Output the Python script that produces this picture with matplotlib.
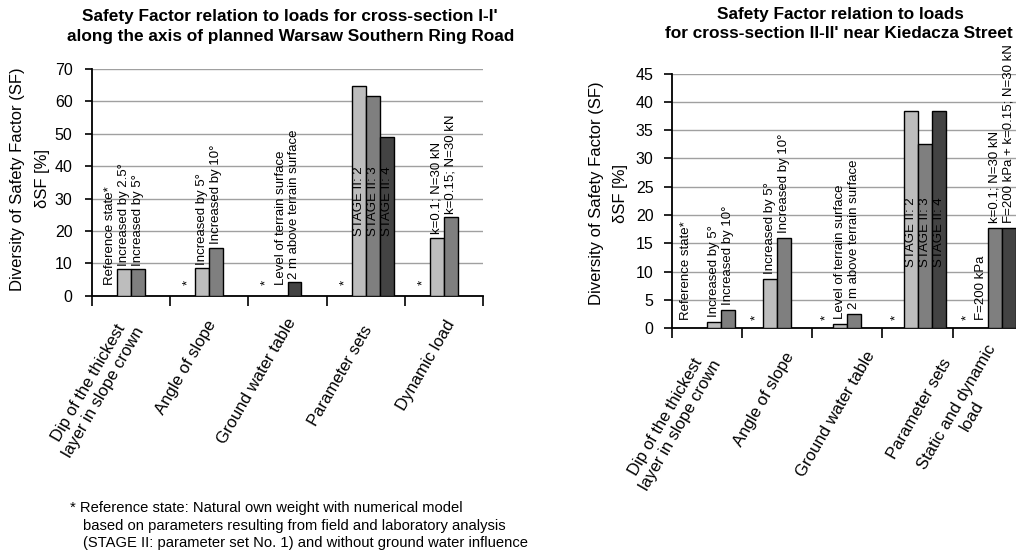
import matplotlib
matplotlib.use("Agg")
import matplotlib.pyplot as plt

plt.rcParams['font.family'] = ['Liberation Sans', 'DejaVu Sans']

# ---------------- data: cross-section I-I' ----------------
cats_1 = ["Dip of the thickest\nlayer in slope crown", "Angle of slope",
          "Ground water table", "Parameter sets", "Dynamic load"]
# four slots per category (None = no bar in that slot)
vals_1 = [
    [0, 8.2, 8.2, None],
    [0, 8.5, 14.8, None],
    [0, 0, 4.1, None],
    [0, 64.7, 61.8, 49.1],
    [0, 17.9, 24.2, None],
]
labels_1 = [
    ["Reference state*", "Increased by 2.5°", "Increased by 5°", None],
    ["*", "Increased by 5°", "Increased by 10°", None],
    ["*", "Level of terrain surface", "2 m above terrain surface", None],
    ["*", "STAGE II: 2", "STAGE II: 3", "STAGE II: 4"],
    ["*", "k=0.1; N=30 kN", "k=0.15; N=30 kN", None],
]
shade_1 = [
    [None, "light", "mid", None],
    [None, "light", "mid", None],
    [None, None, "dark", None],
    [None, "light", "mid", "dark"],
    [None, "light", "mid", None],
]

# ---------------- data: cross-section II-II' ----------------
cats_2 = ["Dip of the thickest\nlayer in slope crown", "Angle of slope",
          "Ground water table", "Parameter sets", "Static and dynamic\nload"]
vals_2 = [
    [0, None, 1.1, 3.2],
    [0, 8.7, 15.9, None],
    [0, 0.8, 2.5, None],
    [0, 38.4, 32.6, 38.4],
    [0, 0, 17.7, 17.7],
]
labels_2 = [
    ["Reference state*", None, "Increased by 5°", "Increased by 10°"],
    ["*", "Increased by 5°", "Increased by 10°", None],
    ["*", "Level of terrain surface", "2 m above terrain surface", None],
    ["*", "STAGE II: 2", "STAGE II: 3", "STAGE II: 4"],
    ["*", "F=200 kPa", "k=0.1; N=30 kN", "F=200 kPa + k=0.15; N=30 kN"],
]
shade_2 = [
    [None, None, "light", "mid"],
    [None, "light", "mid", None],
    [None, "light", "mid", None],
    [None, "light", "mid", "dark"],
    [None, None, "mid", "dark"],
]

SHADES = {"light": "#bdbdbd", "mid": "#7f7f7f", "dark": "#434343"}
W, H = 1016, 556

fig = plt.figure(figsize=(W / 100, H / 100), dpi=100)


def px_axes(x0, x1, ytop, ybot):
    return fig.add_axes([x0 / W, 1 - ybot / H, (x1 - x0) / W, (ybot - ytop) / H])


def draw_panel(ax, cats, vals, labels, shades, ymax, ystep, bar_w, inside_y,
               pad_zero, pad_bar, cat_shift, ytick_pad, ytick_len):
    gap = (1 - 4 * bar_w) / 2
    for i, (cv, cl, cs) in enumerate(zip(vals, labels, shades)):
        for j in range(4):
            x = i + gap + (j + 0.5) * bar_w
            v = cv[j]
            if v is None:
                continue
            if cs[j] is not None and v > 0:
                ax.bar(x, v, width=bar_w, color=SHADES[cs[j]],
                       edgecolor="black", linewidth=1.0, zorder=3)
            lab = cl[j]
            if lab is None:
                continue
            if lab.startswith("STAGE"):
                ax.text(x, inside_y, lab, rotation=90, ha="center",
                        va="bottom", fontsize=9.5, zorder=4)
            else:
                pad = pad_zero if v == 0 else pad_bar
                ax.annotate(lab, xy=(x, v), xytext=(0, pad),
                            textcoords="offset points", rotation=90,
                            ha="center", va="bottom", fontsize=9.5,
                            zorder=4, annotation_clip=False)
    n = len(cats)
    ax.set_xlim(0, n)
    ax.set_ylim(0, ymax)
    ax.set_yticks(range(0, ymax + 1, ystep))
    ax.set_xticks(range(n + 1))
    ax.set_xticklabels([""] * (n + 1))
    # category names, rotated under each group
    for i, name in enumerate(cats):
        dx, dy = cat_shift[i]
        ax.annotate(name, xy=(i + 0.5, 0), xycoords=("data", "axes fraction"),
                    xytext=(dx * 0.72, -(20 + dy * 0.72)),
                    textcoords="offset points", rotation=60, ha="right",
                    va="center", rotation_mode="anchor",
                    multialignment="center", fontsize=12,
                    annotation_clip=False)
    ax.tick_params(axis="x", which="major", length=7, width=1.2,
                   direction="out", color="black")
    ax.tick_params(axis="y", length=ytick_len, width=1.2, direction="out",
                   pad=ytick_pad, labelsize=11.5)
    ax.yaxis.grid(True, color="#a0a0a0", linewidth=1.0)
    ax.set_axisbelow(True)
    for s in ("top", "right"):
        ax.spines[s].set_visible(False)
    for s in ("left", "bottom"):
        ax.spines[s].set_linewidth(1.3)
        ax.spines[s].set_color("black")


ax1 = px_axes(92, 483, 69, 295.7)
draw_panel(ax1, cats_1, vals_1, labels_1, shade_1, 70, 10, 0.179, 18.4,
           pad_zero=8, pad_bar=2.5,
           cat_shift=[(2, 0), (3, -2), (5, -4), (3, 3), (7, -2)],
           ytick_pad=9, ytick_len=5)

ax2 = px_axes(671.7, 1023, 73.5, 328.3)
draw_panel(ax2, cats_2, vals_2, labels_2, shade_2, 45, 5, 0.2, 10.9,
           pad_zero=6, pad_bar=3.5,
           cat_shift=[(3, 1), (13, -3), (24, -4), (30, 4), (12, -6)],
           ytick_pad=7, ytick_len=6)

# titles
title_kw = dict(ha="center", va="center", fontsize=12.4, fontweight="bold")
fig.text(290 / W, 1 - 16 / H,
         "Safety Factor relation to loads for cross-section I-I'", **title_kw)
fig.text(291 / W, 1 - 37 / H,
         "along the axis of planned Warsaw Southern Ring Road", **title_kw)
fig.text(840 / W, 1 - 14 / H, "Safety Factor relation to loads", **title_kw)
fig.text(839 / W, 1 - 33 / H,
         "for cross-section II-II' near Kiedacza Street", **title_kw)

# y-axis titles
ylab_kw = dict(ha="center", va="center", rotation=90, fontsize=12)
fig.text(18 / W, 1 - 179 / H, "Diversity of Safety Factor (SF)", **ylab_kw)
fig.text(43 / W, 1 - 179 / H, "δSF [%]", **ylab_kw)
fig.text(597 / W, 1 - 193 / H, "Diversity of Safety Factor (SF)", **ylab_kw)
fig.text(621 / W, 1 - 193 / H, "δSF [%]", **ylab_kw)

# footnote
note_kw = dict(ha="left", va="center", fontsize=10.6)
fig.text(70 / W, 1 - 508 / H,
         "* Reference state: Natural own weight with numerical model", **note_kw)
fig.text(83 / W, 1 - 526 / H,
         "based on parameters resulting from field and laboratory analysis", **note_kw)
fig.text(83 / W, 1 - 543 / H,
         "(STAGE II: parameter set No. 1) and without ground water influence", **note_kw)

fig.savefig("out.png", dpi=100)
